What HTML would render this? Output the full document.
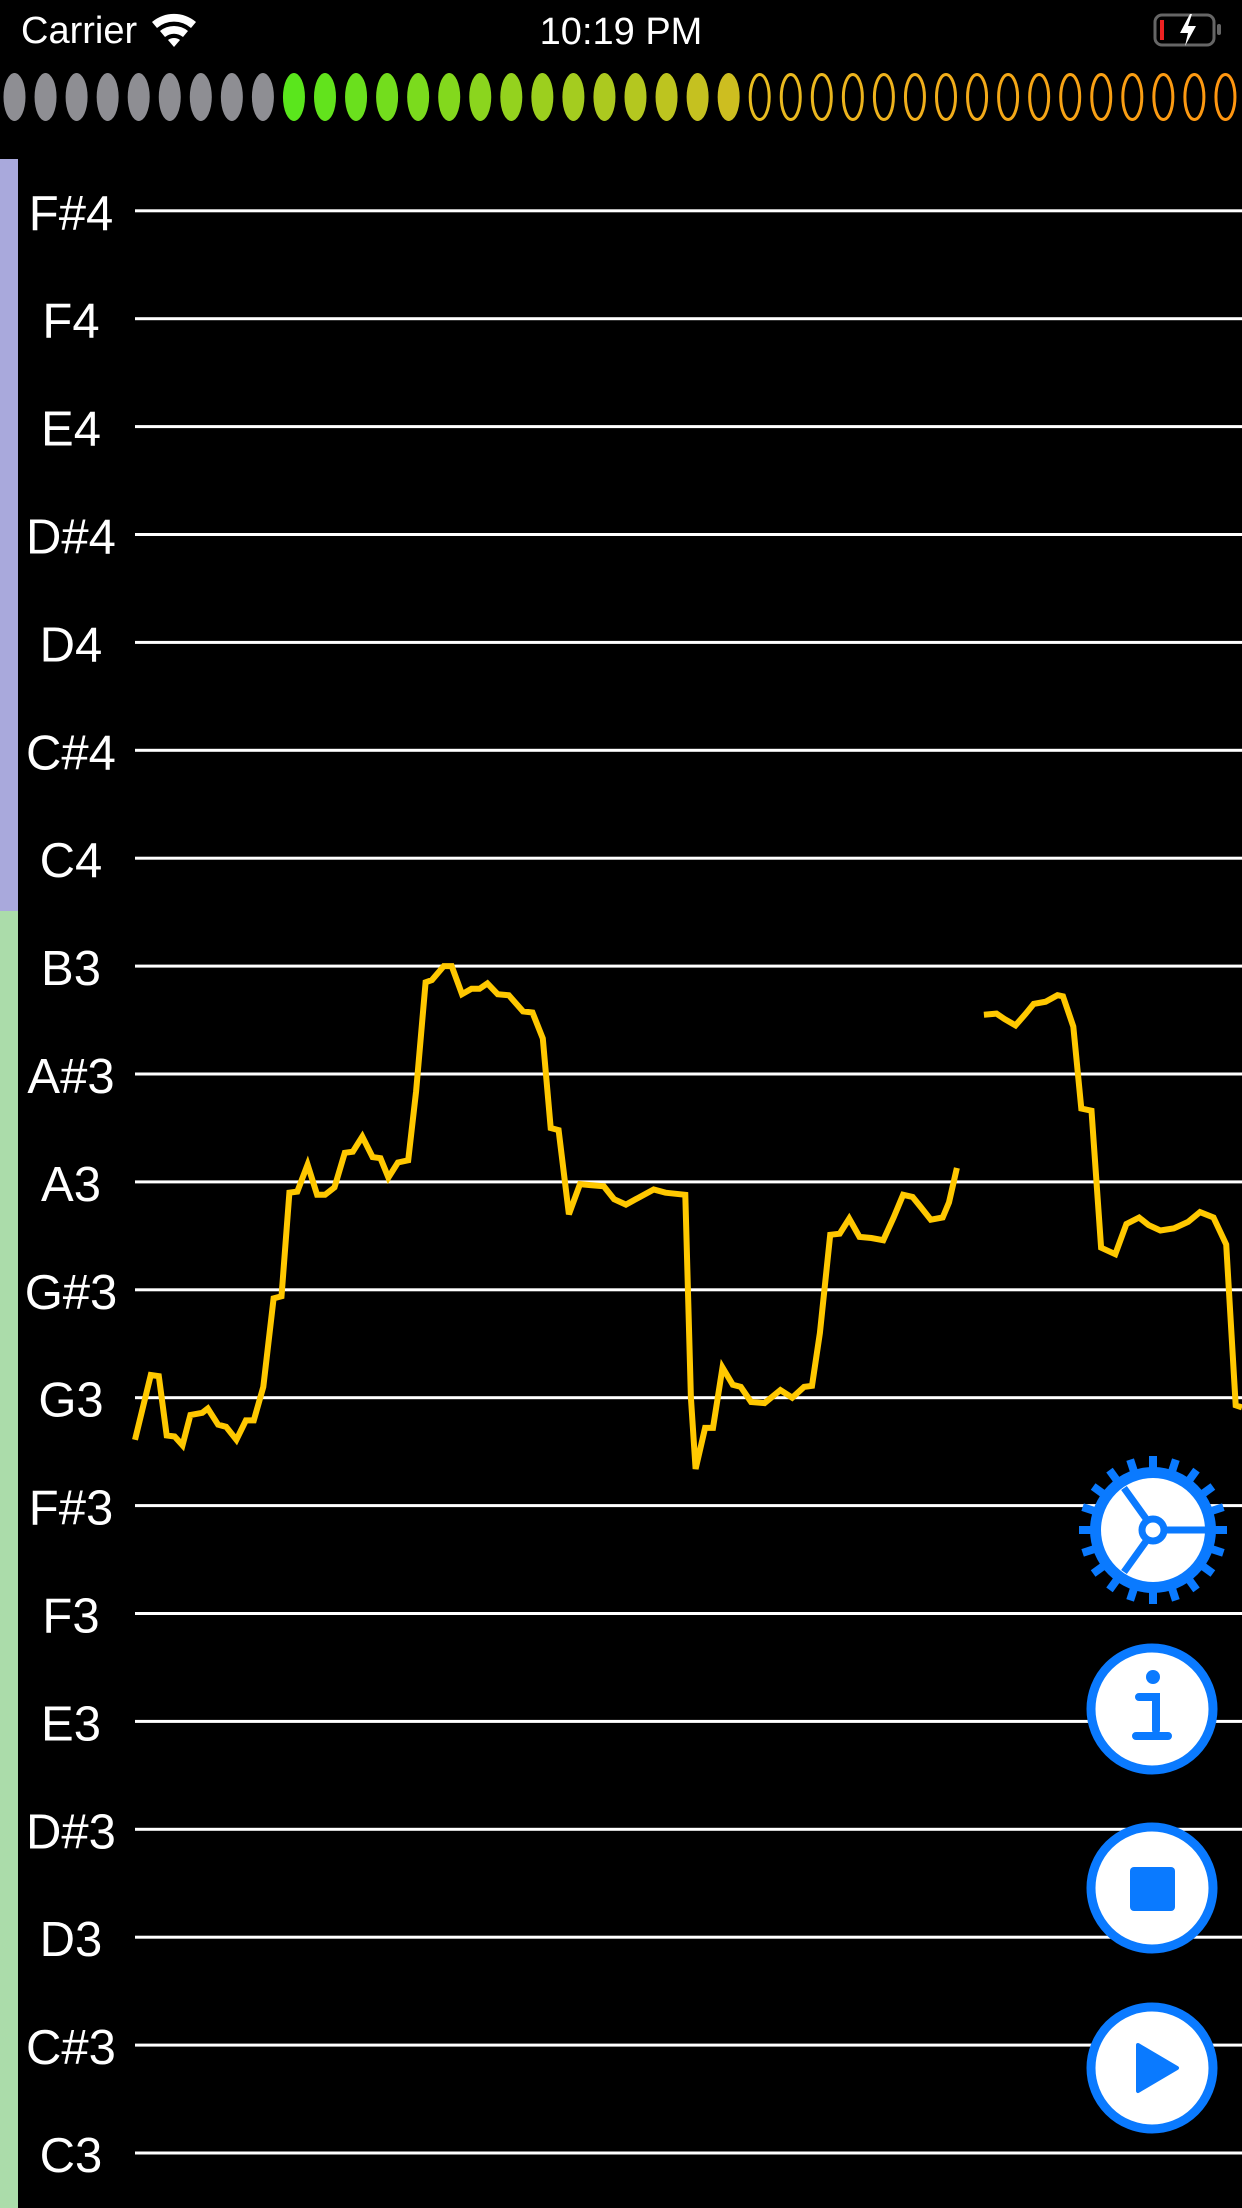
<!DOCTYPE html>
<html><head><meta charset="utf-8"><style>
html,body{margin:0;padding:0;background:#000;width:1242px;height:2208px;overflow:hidden}
svg{display:block}
text{font-family:"Liberation Sans",sans-serif}
</style></head><body>
<svg id="s" width="1242" height="2208" xmlns="http://www.w3.org/2000/svg">
<rect width="1242" height="2208" fill="#000"/>
<g>
<text x="21" y="43" font-size="38" fill="#fff">Carrier</text>
<g fill="#fff">
<path d="M152,22 a34,34 0 0 1 44,0 l-5,6 a26,26 0 0 0 -34,0z"/>
<path d="M160,31 a22,22 0 0 1 28,0 l-5,6 a14,14 0 0 0 -18,0z"/>
<path d="M168,40 a10,10 0 0 1 12,0 l-6,7z"/>
</g>
<text x="621" y="44" font-size="38" fill="#fff" text-anchor="middle">10:19 PM</text>
<g>
<rect x="1155" y="15" width="59" height="30" rx="7" fill="none" stroke="#666" stroke-width="3"/>
<rect x="1217" y="24" width="4" height="11" rx="2" fill="#666"/>
<rect x="1160" y="20" width="4" height="20" fill="#e22"/>
<path d="M1190,14 l-10,19 h8 l-3,13 l11,-20 h-8 l4,-12z" fill="#fff"/>
</g>
</g>
<g id="leds"></g>
<rect x="0" y="159" width="18" height="752" fill="#a9a9dc"/>
<rect x="0" y="911" width="18" height="1297" fill="#abdcaa"/>
<g id="grid"></g>
<g id="plot"></g>
<g>
<circle cx="1153" cy="1530" r="63" fill="#0a7aff"/>
<g id="teeth" fill="#0a7aff"></g>
<circle cx="1153" cy="1530" r="52" fill="#fff"/>
<g stroke="#0a7aff" stroke-width="7" fill="none"><line x1="1165" y1="1530" x2="1206" y2="1530"/><line x1="1147" y1="1520" x2="1124" y2="1488"/><line x1="1147" y1="1540" x2="1124" y2="1572"/><circle cx="1153" cy="1530" r="11" fill="#fff"/></g>
</g>
<g>
<circle cx="1152" cy="1709" r="61" fill="#fff" stroke="#0a7aff" stroke-width="9"/>
<circle cx="1153" cy="1677" r="7" fill="#0a7aff"/>
<path d="M1139,1697 h17 v33 M1136,1736 h32" stroke="#0a7aff" stroke-width="8" fill="none" stroke-linecap="round"/>
</g>
<g>
<circle cx="1152" cy="1888" r="61" fill="#fff" stroke="#0a7aff" stroke-width="9"/>
<rect x="1130" y="1867" width="45" height="44" rx="4" fill="#0a7aff"/>
</g>
<g>
<circle cx="1152" cy="2068" r="61" fill="#fff" stroke="#0a7aff" stroke-width="9"/>
<path d="M1138,2045 L1177,2068 L1138,2091z" fill="#0a7aff" stroke="#0a7aff" stroke-width="4" stroke-linejoin="round"/>
</g>
</svg>
<script>
const noteLabels=["C3","C#3","D3","D#3","E3","F3","F#3","G3","G#3","A3","A#3","B3","C4","C#4","D4","D#4","E4","F4","F#4"];
const times=[170,190,200,210,220,230,240,255,262,275,285,298,310,320,332,345,355,365,375,388,400,410,422,435,445,457,470,480,490,502,515,525,537,545,560,570,583,595,605,615,628,642,660,672,685,695,705,718,732,745,762,775,790,805,825,840,865,872,878,890,900,912,925,935,948,965,985,1000,1015,1025,1035,1048,1060,1072,1085,1100,1115,1128,1140,1152,1162,1175,1190,1198,1208,1225,1242,1258,1268,1282,1295,1305,1320,1335,1342,1355,1365,1378,1390,1408,1422,1438,1450,1465,1482,1500,1515,1532,1548,1560,1568];
const pitch=[6.61,7.21,7.2,6.65,6.64,6.56,6.84,6.86,6.9,6.75,6.73,6.61,6.79,6.79,7.1,7.92,7.94,8.9,8.91,9.16,8.88,8.88,8.95,9.27,9.28,9.42,9.23,9.22,9.04,9.18,9.2,9.84,10.85,10.87,11.0,11.0,10.74,10.79,10.79,10.84,10.74,10.73,10.58,10.57,10.33,9.5,9.48,8.7,8.98,8.97,8.96,8.84,8.79,8.85,8.93,8.9,8.88,7.0,6.34,6.72,6.72,7.28,7.12,7.1,6.96,6.95,7.07,7.0,7.1,7.11,7.6,8.51,8.52,8.66,8.49,8.48,8.46,8.67,8.88,8.86,8.77,8.65,8.67,8.81,9.13,null,10.55,10.56,10.51,10.45,10.56,10.65,10.67,10.73,10.72,10.44,9.68,9.66,8.39,8.33,8.61,8.67,8.6,8.55,8.57,8.63,8.72,8.67,8.42,6.93,6.91];
const ledGrey=9, ledGreen=15, ledOutline=16;
const NS="http://www.w3.org/2000/svg";
function yScale(v){return 2153-v*107.9;}
function xScale(t){return 135+(t-170)*(1242-135)/(1568-170);}
const grid=document.getElementById('grid');
noteLabels.forEach((n,i)=>{
 const y=yScale(i);
 const l=document.createElementNS(NS,'rect');
 l.setAttribute('x',135);l.setAttribute('y',y-1.5);l.setAttribute('width',1107);l.setAttribute('height',3);l.setAttribute('fill','#fff');
 
 
 grid.appendChild(l);
 const t=document.createElementNS(NS,'text');
 t.setAttribute('x',71);t.setAttribute('y',y+19);t.setAttribute('font-size',49);t.setAttribute('fill','#fff');t.setAttribute('text-anchor','middle');
 t.textContent=n;
 
 
 grid.appendChild(t);
});
const plot=document.getElementById('plot');
let segs=[],cur=[];
times.forEach((t,i)=>{const v=pitch[i];if(v===null){if(cur.length)segs.push(cur);cur=[];}else cur.push(xScale(t).toFixed(1)+','+yScale(v).toFixed(1));});
if(cur.length)segs.push(cur);
segs.forEach(s=>{
 const p=document.createElementNS(NS,'polyline');
 p.setAttribute('points',s.join(' '));p.setAttribute('fill','none');p.setAttribute('stroke','#ffc800');p.setAttribute('stroke-width',6);p.setAttribute('stroke-linejoin','miter');
 
 
 plot.appendChild(p);
});
const leds=document.getElementById('leds');
function mix(a,b,f){return 'rgb('+a.map((c,i)=>Math.round(c+(b[i]-c)*f)).join(',')+')';}
const total=ledGrey+ledGreen+ledOutline;
for(let i=0;i<total;i++){
 const e=document.createElementNS(NS,'ellipse');
 const cx=14.5+i*31.05;
 e.setAttribute('cx',cx);e.setAttribute('cy',97);
 if(i<ledGrey){e.setAttribute('rx',11);e.setAttribute('ry',24);e.setAttribute('fill','#8e8e93');}
 else if(i<ledGrey+ledGreen){const f=(i-ledGrey)/(ledGreen-1);e.setAttribute('rx',11);e.setAttribute('ry',24);e.setAttribute('fill',mix([90,230,28],[205,190,32],f));}
 else{const f=(i-ledGrey-ledGreen)/(ledOutline-1);e.setAttribute('rx',9.5);e.setAttribute('ry',22.5);e.setAttribute('fill','none');e.setAttribute('stroke',mix([232,188,32],[255,150,16],f));e.setAttribute('stroke-width',3);}
 
 
 leds.appendChild(e);
}
const teeth=document.getElementById('teeth');
for(let i=0;i<20;i++){
 const a=i*18;
 const r=document.createElementNS(NS,'rect');
 r.setAttribute('x',1149);r.setAttribute('y',1456);r.setAttribute('width',8);r.setAttribute('height',20);
 r.setAttribute('transform','rotate('+a+' 1153 1530)');
 teeth.appendChild(r);
}
</script>
</body></html>
